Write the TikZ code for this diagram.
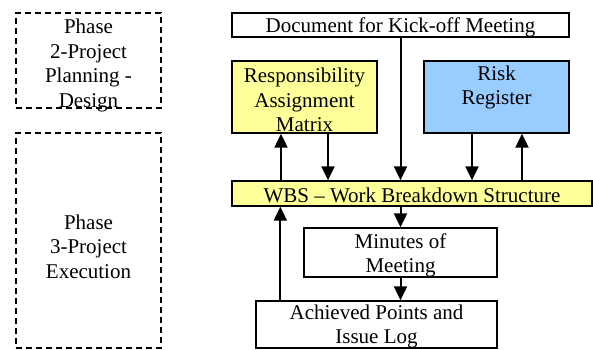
\documentclass[tikz,border=0pt]{standalone}
\usepackage{fontspec}
\setmainfont{Liberation Serif}
\usetikzlibrary{arrows.meta}

\definecolor{paleYellow}{HTML}{FFFF99}
\definecolor{paleBlue}{HTML}{99CCFF}

\begin{document}
\begin{tikzpicture}[x=1pt, y=-1pt,
	box/.style={draw, line width=1.3pt, inner sep=0pt},
	phasebox/.style={box, dashed, dash pattern=on 6pt off 4pt},
	txt/.style={inner sep=0pt, align=center, font=\fontsize{21}{24.4}\selectfont},
	arr/.style={line width=2pt, -{Triangle[length=14pt, width=13pt]}}]

	\useasboundingbox (0,0) rectangle (593,349);

	% Phase boxes
	\node[phasebox, minimum width=145pt, minimum height=95pt] (phasetwo) at (88.5,60.5) {};
	\node[txt] (phasetwotext) at ([yshift=-5pt]phasetwo.center)
		{Phase\\ 2-Project\\ Planning -\\ Design};
	\node[phasebox, minimum width=145pt, minimum height=215pt] (phasethree) at (88.5,240.5) {};
	\node[txt] (phasethreetext) at ([yshift=-6pt]phasethree.center)
		{Phase\\ 3-Project\\ Execution};

	% Documents
	\node[box, minimum width=337pt, minimum height=24pt] (kickoff) at (400.5,25) {};
	\node[txt] (kickofftext) at ([yshift=-2pt]kickoff.center) {Document for Kick-off Meeting};
	\node[box, fill=paleYellow, minimum width=145pt, minimum height=72pt] (ram) at (304.5,97) {};
	\node[txt] (ramtext) at ([yshift=-3pt]ram.center) {Responsibility\\ Assignment\\ Matrix};
	\node[box, fill=paleBlue, minimum width=145pt, minimum height=72pt] (risk) at (496.5,97) {};
	\node[txt, anchor=north] (risktext) at ([yshift=-5pt]risk.north) {Risk\\ Register};
	\node[box, fill=paleYellow, minimum width=360pt, minimum height=25pt] (wbs) at (412,193.5) {};
	\node[txt] (wbstext) at ([yshift=-2pt]wbs.center) {WBS -- Work Breakdown Structure};
	\node[box, minimum width=193pt, minimum height=49pt] (minutes) at (400.5,252.5) {};
	\node[txt] (minutestext) at ([yshift=-3pt]minutes.center) {Minutes of\\ Meeting};
	\node[box, minimum width=241pt, minimum height=47pt] (achieved) at (376.5,324.5) {};
	\node[txt] (achievedtext) at ([yshift=-2pt]achieved.center) {Achieved Points and\\ Issue Log};

	% Arrows
	\draw[arr] ([xshift=-23.5pt]ram.south |- wbs.north) -- ([xshift=-23.5pt]ram.south);
	\draw[arr] ([xshift=23.5pt]ram.south) -- ([xshift=23.5pt]ram.south |- wbs.north);
	\draw[arr] (kickoff.south) -- (kickoff.south |- wbs.north);
	\draw[arr] ([xshift=-24.5pt]risk.south) -- ([xshift=-24.5pt]risk.south |- wbs.north);
	\draw[arr] ([xshift=25.5pt]risk.south |- wbs.north) -- ([xshift=25.5pt]risk.south);
	\draw[arr] (minutes.north |- wbs.south) -- (minutes.north);
	\draw[arr] (minutes.south) -- (minutes.south |- achieved.north);
	\draw[arr] ([xshift=25pt]achieved.north west) -- ([xshift=25pt]achieved.north west |- wbs.south);

\end{tikzpicture}
\end{document}
